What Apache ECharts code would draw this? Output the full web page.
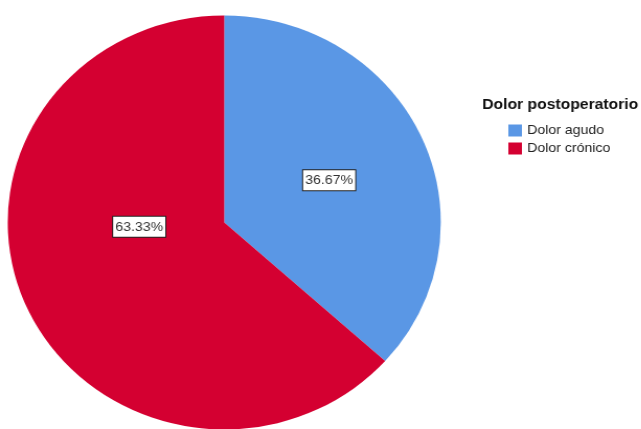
<!DOCTYPE html>
<html>
<head>
<meta charset="utf-8">
<script src="https://cdn.jsdelivr.net/npm/echarts@6/dist/echarts.min.js"></script>
<style>
  html, body { margin: 0; padding: 0; background: #fff; overflow: hidden; }
  /* the pie is drawn slightly wider than tall, so the chart is stretched horizontally */
  #chart { width: 613px; height: 429px; transform: scaleX(1.046); transform-origin: 0 0; }
</style>
</head>
<body>
<div id="chart"></div>
<script>
const legendTitle = 'Dolor postoperatorio';
const categories = ['Dolor agudo', 'Dolor crónico'];
const percentages = [36.67, 63.33];
const colors = ['#5A97E5', '#D40031'];

// small nudges applied to the percentage labels after the default inside placement
const labelShift = [[3, 1], [16, -39]];

const chart = echarts.init(document.getElementById('chart'), null, { renderer: 'canvas' });

chart.setOption({
  animation: false,
  backgroundColor: '#ffffff',
  textStyle: { fontFamily: 'Liberation Sans, Arial, sans-serif' },
  title: {
    text: legendTitle,
    left: 461,
    top: 97,
    padding: 0,
    textStyle: { fontSize: 15, fontWeight: 'bold', color: '#111', fontFamily: 'Liberation Sans, Arial, sans-serif' }
  },
  legend: {
    orient: 'vertical',
    left: 486,
    top: 123,
    padding: 0,
    icon: 'rect',
    itemWidth: 13,
    itemHeight: 12,
    itemGap: 3,
    data: categories,
    textStyle: { fontSize: 13.5, color: '#222', lineHeight: 15, fontFamily: 'Liberation Sans, Arial, sans-serif' }
  },
  series: [{
    type: 'pie',
    center: [214.4, 222.5],
    radius: [0, 207],
    startAngle: 90,
    clockwise: true,
    avoidLabelOverlap: false,
    itemStyle: { borderWidth: 0 },
    emphasis: { disabled: true },
    label: {
      show: true,
      position: 'inside',
      formatter: p => p.value.toFixed(2) + '%',
      fontSize: 13.5,
      color: '#333',
      backgroundColor: '#fff',
      borderColor: '#222',
      borderWidth: 1,
      padding: [3, 2, 3, 2],
      fontFamily: 'Liberation Sans, Arial, sans-serif'
    },
    labelLayout: params => {
      const s = labelShift[params.dataIndex];
      return { dx: s[0], dy: s[1] };
    },
    data: categories.map((name, i) => ({
      name: name,
      value: percentages[i],
      itemStyle: { color: colors[i] }
    }))
  }]
});
</script>
</body>
</html>
